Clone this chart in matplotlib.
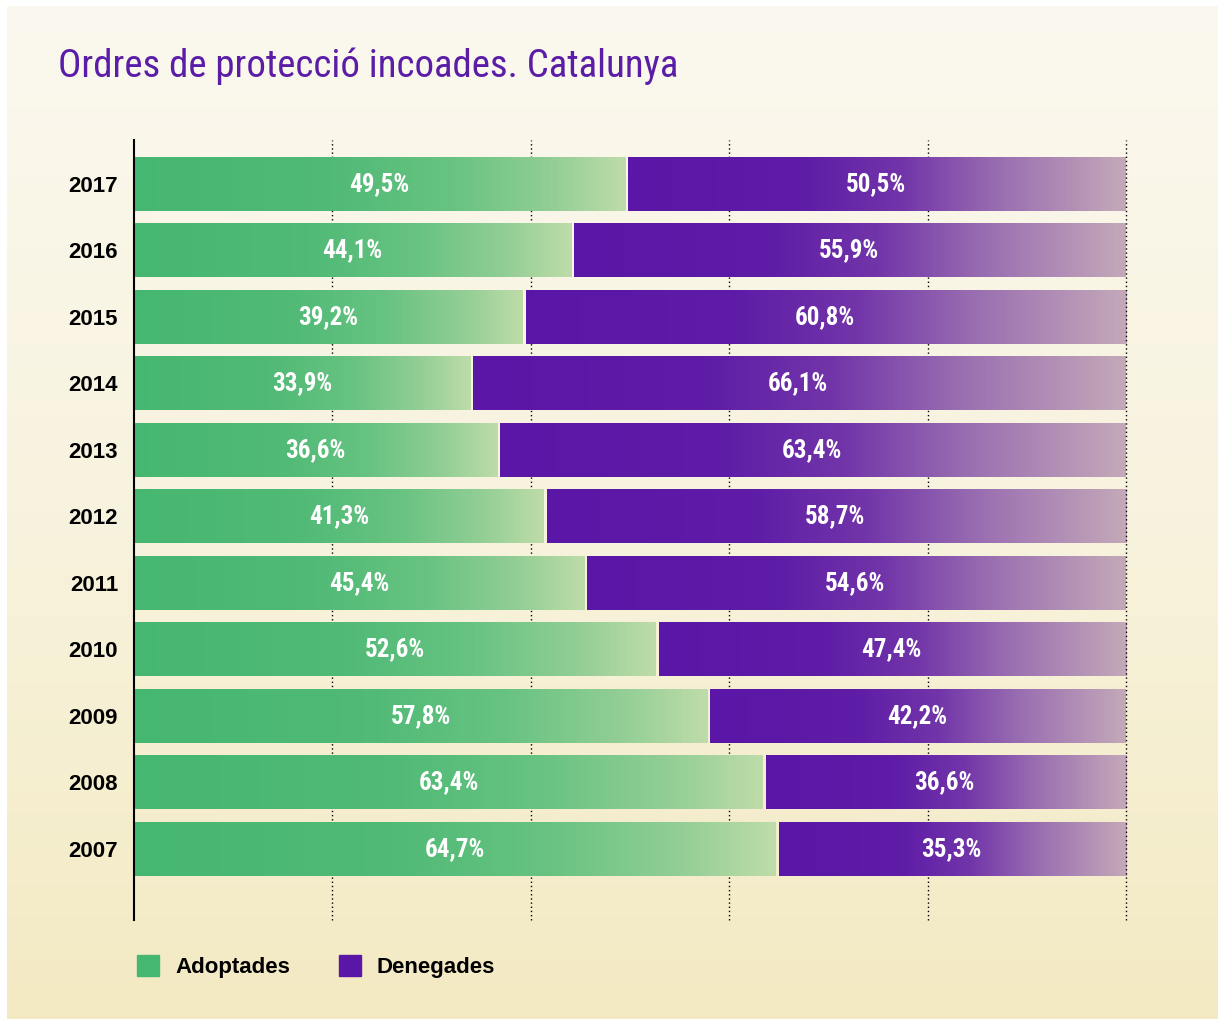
import matplotlib.pyplot as plt
import numpy as np
from matplotlib.colors import LinearSegmentedColormap
from matplotlib.patches import Rectangle

years = ['2007', '2008', '2009', '2010', '2011', '2012', '2013', '2014', '2015', '2016', '2017']
adoptades = [64.7, 63.4, 57.8, 52.6, 45.4, 41.3, 36.6, 33.9, 39.2, 44.1, 49.5]
denegades = [35.3, 36.6, 42.2, 47.4, 54.6, 58.7, 63.4, 66.1, 60.8, 55.9, 50.5]

title = 'Ordres de protecció incoades. Catalunya'
legend_labels = ['Adoptades', 'Denegades']

green = '#46B771'
purple = '#5A16A6'
green_cmap = LinearSegmentedColormap.from_list('g', [
    (0, '#46B771'), (0.4, '#50BA76'), (0.65, '#68C382'), (0.85, '#92CE95'), (1, '#BEDCA9')])
purple_cmap = LinearSegmentedColormap.from_list('p', [
    (0, '#5A16A6'), (0.35, '#5E1CA7'), (0.55, '#7235A9'), (0.75, '#9A6FB1'), (1, '#C4A9B9')])

narrow_kw = dict(family='Roboto Condensed')

W, H = 1224, 1019
fig = plt.figure(figsize=(W / 100, H / 100), dpi=100)
fig.patch.set_facecolor('white')

# background panel with vertical gradient
bg = fig.add_axes([7 / W, 0, 1 - 13 / W, 1 - 6 / H])
bg_cmap = LinearSegmentedColormap.from_list('bg', ['#FBF8EF', '#F8F3DE', '#F3EAC3'])
bg.imshow(np.linspace(0, 1, 256).reshape(-1, 1), cmap=bg_cmap, aspect='auto',
          extent=[0, 1, 1, 0])
bg.set_axis_off()

ax = fig.add_axes([134 / W, 99 / H, 992 / W, 780 / H])
ax.patch.set_alpha(0)

grad = np.linspace(0, 1, 256).reshape(1, -1)
h = 0.81
gap = 0.3
for i, (a, d) in enumerate(zip(adoptades, denegades)):
    ax.imshow(grad, cmap=green_cmap, aspect='auto', interpolation='bilinear',
              extent=[0, a, i - h / 2, i + h / 2], zorder=2)
    ax.imshow(grad, cmap=purple_cmap, aspect='auto', interpolation='bilinear',
              extent=[a + gap, a + d, i - h / 2, i + h / 2], zorder=2)
    ax.text(a / 2, i, f'{a:.1f}%'.replace('.', ','), ha='center', va='center',
            color='white', fontsize=18, fontweight='bold', zorder=4, **narrow_kw)
    ax.text(a + d / 2, i, f'{d:.1f}%'.replace('.', ','), ha='center', va='center',
            color='white', fontsize=18, fontweight='bold', zorder=4, **narrow_kw)

for x in [20, 40, 60, 80, 100]:
    ax.axvline(x, color='black', lw=1, ls=(0, (1, 2)),
               zorder=1 if x < 100 else 3, clip_on=False)

ax.set_xlim(0, 100)
ax.set_ylim(-1.07, 10.66)
ax.set_yticks(range(len(years)))
ax.set_yticklabels(years, fontsize=16, fontweight='bold', family='Liberation Sans')
ax.set_xticks([])
ax.tick_params(axis='y', length=0, pad=11.5)
for s in ['top', 'right', 'bottom']:
    ax.spines[s].set_visible(False)
ax.spines['left'].set_linewidth(1.5)

fig.text(58 / W, 1 - 66 / H, title, fontsize=28, color='#5B1DA8',
         va='center', ha='left', **narrow_kw)

# legend
for x0, lab, col in [(137, legend_labels[0], green), (339, legend_labels[1], purple)]:
    fig.patches.append(Rectangle((x0 / W, 1 - 976 / H), 22 / W, 21 / H,
                                 transform=fig.transFigure, color=col))
    fig.text((x0 + 38) / W, 1 - 967 / H, lab, fontsize=16, fontweight='bold',
             family='Liberation Sans', va='center', ha='left')

fig.savefig('out.png', dpi=100)
